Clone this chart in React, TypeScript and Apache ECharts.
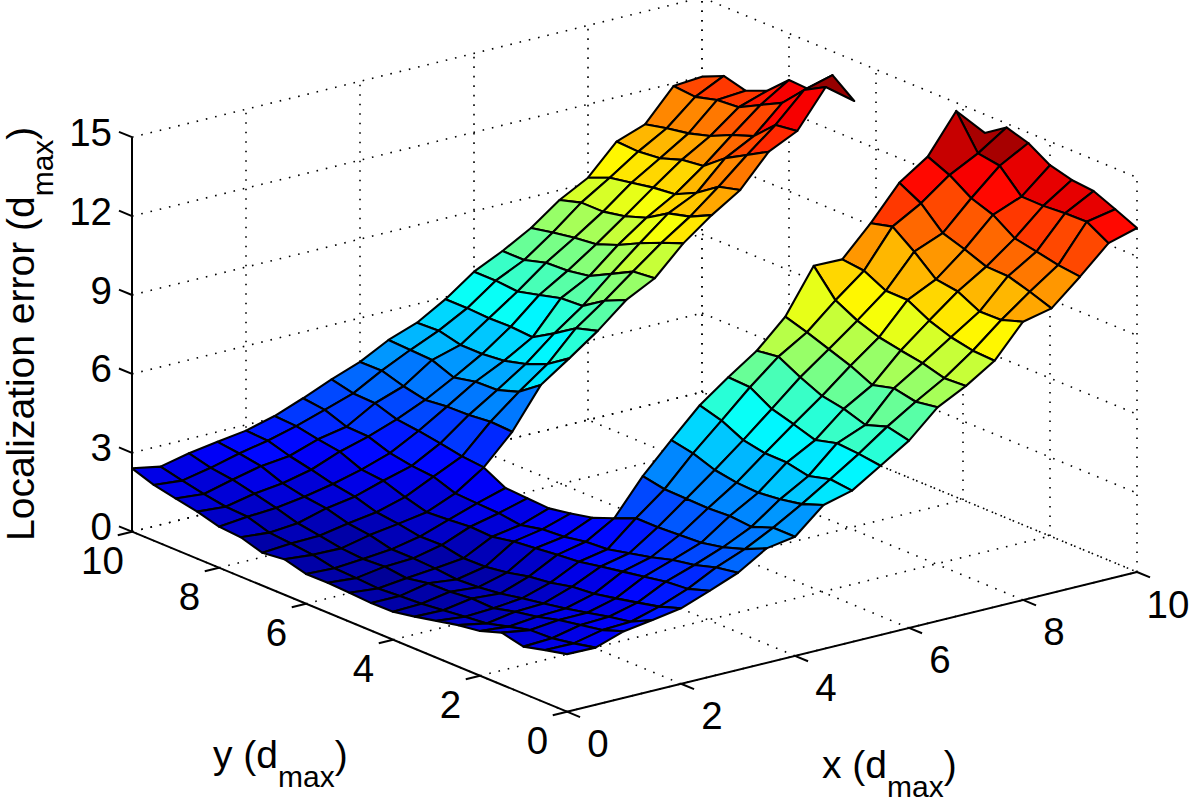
import React, { useEffect, useRef } from "react";
import * as echarts from "echarts";

const N = null;
// Localization error at x = 0, 0.5, ... 10 (outer) and y = 0, 0.5, ... 10 (inner)
const z00 = [2.19,2.0,1.79,1.98,1.7,1.58,1.4,1.22,1.06,1.05,1.1,1.14,1.13,1.35,1.25,1.5,1.56,1.79,1.95,2.12,2.41];
const z05 = [2.17,1.99,1.84,1.81,1.6,1.38,1.29,1.2,1.1,1.05,1.0,1.05,1.08,1.25,1.34,1.41,1.67,1.71,1.85,2.02,2.21];
const z10 = [2.53,2.23,2.08,1.93,1.71,1.56,1.35,1.38,1.29,1.27,1.12,1.22,1.17,1.23,1.37,1.5,1.74,1.94,2.13,2.24,2.45];
const z15 = [2.69,2.28,2.13,1.94,1.76,1.61,1.46,1.3,1.2,1.15,1.23,1.27,1.27,1.47,1.57,1.8,1.9,2.07,2.38,2.52,2.62];
const z20 = [2.87,2.59,2.4,2.22,2.05,1.98,1.79,1.68,1.49,1.37,1.35,1.51,1.49,1.63,1.73,1.98,2.12,2.32,2.5,2.74,2.78];
const z25 = [3.27,3.0,2.93,2.78,2.63,2.48,2.32,2.24,2.15,2.06,1.9,1.94,1.86,1.81,2.04,2.32,2.4,2.74,2.87,3.03,3.07];
const z30 = [3.69,3.55,3.3,3.15,2.91,2.72,2.53,2.47,2.32,2.26,2.08,2.19,2.22,2.26,2.55,2.62,2.76,3.05,3.08,3.38,3.48];
const z35 = [4.35,3.98,3.71,3.54,3.49,3.44,3.44,3.1,2.78,2.6,2.45,2.49,2.54,2.98,3.06,3.21,3.34,3.44,3.71,3.74,3.93];
const z40 = [4.53,4.53,4.22,4.29,4.24,4.26,4.28,4.44,N,N,N,N,N,4.07,4.11,4.02,4.0,3.91,4.09,4.34,4.33];
const z45 = [5.47,5.16,5.0,4.91,4.95,5.09,5.38,5.54,N,N,N,N,N,5.58,4.98,4.71,4.68,4.5,4.82,4.86,4.9];
const z50 = [5.75,5.84,5.62,5.79,5.8,5.96,6.36,6.6,N,N,N,N,N,6.33,5.77,5.43,5.21,5.13,5.13,5.33,5.29];
const z55 = [6.43,6.54,6.6,6.38,6.64,6.88,7.36,7.4,N,N,N,N,N,7.11,6.87,6.33,5.84,5.9,5.88,5.92,5.92];
const z60 = [7.12,7.31,7.03,7.3,7.45,7.82,8.26,8.14,N,N,N,N,N,8.02,7.65,7.11,7.06,6.84,6.63,6.7,6.7];
const z65 = [8.12,7.99,8.16,7.94,8.33,8.62,8.92,9.17,N,N,N,N,N,8.58,8.49,8.06,7.64,7.5,7.46,7.22,7.22];
const z70 = [8.67,8.62,8.85,8.99,9.15,9.44,9.87,10.84,N,N,N,N,N,9.64,9.32,8.96,8.55,8.24,8.14,8.0,7.83];
const z75 = [9.36,9.4,9.57,9.86,10.3,10.31,10.73,10.82,N,N,N,N,N,10.45,10.05,9.83,9.32,9.04,8.87,8.87,8.63];
const z80 = [10.58,10.3,10.28,10.7,10.82,11.53,12.14,11.93,N,N,N,N,N,11.14,10.92,10.35,9.95,9.86,9.7,9.55,9.21];
const z85 = [10.82,11.11,11.36,11.38,11.7,11.97,12.76,13.2,N,N,N,N,N,12.33,11.86,11.4,10.76,10.65,10.37,10.28,10.32];
const z90 = [11.76,11.86,12.03,12.19,12.74,13.03,13.57,13.93,N,N,N,N,N,12.85,12.74,11.97,11.67,11.29,11.05,10.9,10.71];
const z95 = [12.77,13.24,13.22,13.16,13.17,14.0,14.13,15.4,N,N,N,N,N,14.26,13.8,12.97,12.55,12.12,12.05,11.83,11.9];
const z100 = [13.08,13.45,13.8,13.88,14.1,14.6,14.85,14.3,N,N,N,N,N,13.46,14.1,13.19,13.23,12.48,12.14,12.36,11.99];
const Z: (number | null)[][] = [z00,z05,z10,z15,z20,z25,z30,z35,z40,z45,z50,z55,z60,z65,z70,z75,z80,z85,z90,z95,z100];

const xTicks = [0, 2, 4, 6, 8, 10];
const yTicks = [0, 2, 4, 6, 8, 10];
const zTicks = [0, 3, 6, 9, 12, 15];
const STEP = 0.5;

// orthographic view of the 3-D box, in plot units
const project = (x: number, y: number, z: number): [number, number] => [
  567 + 57 * x - 43.5 * y,
  711.7 - 13.97 * x - 18 * y - 26.3 * z,
];

const C_MIN = 0.6;
const C_MAX = 14.6;
const clamp = (v: number) => Math.max(0, Math.min(1, v));
function jet(z: number): string {
  const t = clamp((z - C_MIN) / (C_MAX - C_MIN));
  const v = (Math.min(63, Math.floor(t * 64)) + 0.5) / 64;
  const ch = (c: number) => Math.round(255 * clamp(1.5 - Math.abs(4 * v - c)));
  return `rgb(${ch(3)},${ch(2)},${ch(1)})`;
}

type P3 = [number, number, number];
const dotted: [P3, P3][] = [];
for (const t of xTicks) {
  dotted.push([[t, 0, 0], [t, 10, 0]]);
  dotted.push([[t, 10, 0], [t, 10, 15]]);
}
for (const t of yTicks) {
  dotted.push([[0, t, 0], [10, t, 0]]);
  dotted.push([[10, t, 0], [10, t, 15]]);
}
for (const t of zTicks) {
  dotted.push([[0, 10, t], [10, 10, t]]);
  dotted.push([[10, 10, t], [10, 0, t]]);
}

const solid: [P3, P3][] = [
  [[0, 0, 0], [10, 0, 0]],
  [[0, 0, 0], [0, 10, 0]],
  [[0, 10, 0], [0, 10, 15]],
];
for (const t of xTicks) solid.push([[t, 0, 0], [t, -0.3, 0]]);
for (const t of yTicks) solid.push([[0, t, 0], [-0.25, t, 0]]);
for (const t of zTicks) solid.push([[0, 10, t], [0, 10.3, t]]);

const cells: [number, number][] = [];
for (let i = 0; i < Z.length - 1; i++) {
  for (let j = 0; j < Z[i].length - 1; j++) {
    if (Z[i][j] != null && Z[i + 1][j] != null && Z[i][j + 1] != null && Z[i + 1][j + 1] != null) {
      cells.push([i, j]);
    }
  }
}
cells.sort((a, b) => 13.97 * (b[0] - a[0]) + 18 * (b[1] - a[1]));

const FONT = "'Liberation Sans', Arial, Helvetica, sans-serif";
const tickLabels: { text: string; at: [number, number]; dx: number; dy: number; align: string }[] = [
  ...xTicks.map((t) => ({ text: String(t), at: project(t, 0, 0), dx: 31, dy: 32, align: "center" })),
  ...yTicks.map((t) => ({ text: String(t), at: project(0, t, 0), dx: -29.5, dy: 28.3, align: "center" })),
  ...zTicks.map((t) => ({ text: String(t), at: project(0, 10, t), dx: -20, dy: -5, align: "right" })),
];

const rich = {
  a: { fontSize: 39, fontFamily: FONT, fill: "#000", verticalAlign: "top" },
  b: { fontSize: 30, fontFamily: FONT, fill: "#000", verticalAlign: "bottom", padding: [26, 0, 0, 0] },
};

export default function App() {
  const ref = useRef<HTMLDivElement>(null);
  useEffect(() => {
    document.body.style.margin = "0";
    const chart = echarts.init(ref.current!, undefined, { renderer: "svg" });
    const lineItem = (segs: [P3, P3][], style: any) => (params: any, api: any) => {
      const [a, b] = segs[params.dataIndex];
      const p = api.coord(project(a[0], a[1], a[2]));
      const q = api.coord(project(b[0], b[1], b[2]));
      return { type: "line", shape: { x1: p[0], y1: p[1], x2: q[0], y2: q[1] }, style };
    };
    chart.setOption({
      animation: false,
      backgroundColor: "#fff",
      grid: { left: 0, right: 0, top: 0, bottom: 0 },
      xAxis: { type: "value", min: 0, max: 1200, show: false },
      yAxis: { type: "value", min: 0, max: 805, inverse: true, show: false },
      series: [
        {
          type: "custom",
          name: "grid",
          silent: true,
          clip: false,
          data: dotted.map((_, i) => [i, i]),
          renderItem: lineItem(dotted, { stroke: "#000", lineWidth: 1.6, lineDash: [1.6, 7.9], fill: null }),
        },
        {
          type: "custom",
          name: "axes",
          silent: true,
          clip: false,
          data: solid.map((_, i) => [i, i]),
          renderItem: lineItem(solid, { stroke: "#000", lineWidth: 2, fill: null }),
        },
        {
          type: "custom",
          name: "Localization error",
          silent: true,
          clip: false,
          data: cells,
          renderItem: (params: any, api: any) => {
            const [i, j] = cells[params.dataIndex];
            const corners = [[i, j], [i + 1, j], [i + 1, j + 1], [i, j + 1]];
            const points = corners.map(([a, b]) =>
              api.coord(project(a * STEP, b * STEP, Z[a][b] as number))
            );
            return {
              type: "polygon",
              shape: { points },
              style: { fill: jet(Z[i][j] as number), stroke: "#000", lineWidth: 2.1, lineJoin: "round" },
            };
          },
        },
        {
          type: "custom",
          name: "tick labels",
          silent: true,
          clip: false,
          data: tickLabels.map((_, i) => [i, i]),
          renderItem: (params: any, api: any) => {
            const l = tickLabels[params.dataIndex];
            const p = api.coord(l.at);
            return {
              type: "text",
              x: p[0] + l.dx,
              y: p[1] + l.dy,
              style: {
                text: l.text,
                fontSize: 38.5,
                lineHeight: 28,
                fontFamily: FONT,
                fill: "#000",
                align: l.align,
                verticalAlign: "middle",
              },
            };
          },
        },
      ],
      graphic: [
        {
          type: "text",
          x: 1,
          y: 541,
          rotation: Math.PI / 2,
          style: { text: "{a|Localization error (d}{b|max}{a|)}", rich, align: "left", verticalAlign: "top" },
        },
        {
          type: "text",
          x: 213,
          y: 735,
          style: { text: "{a|y (d}{b|max}{a|)}", rich, align: "left", verticalAlign: "top" },
        },
        {
          type: "text",
          x: 822,
          y: 745,
          style: { text: "{a|x (d}{b|max}{a|)}", rich, align: "left", verticalAlign: "top" },
        },
      ],
    });
    return () => chart.dispose();
  }, []);
  return <div ref={ref} style={{ width: 1200, height: 805, position: "absolute", left: 0, top: 0 }} />;
}
